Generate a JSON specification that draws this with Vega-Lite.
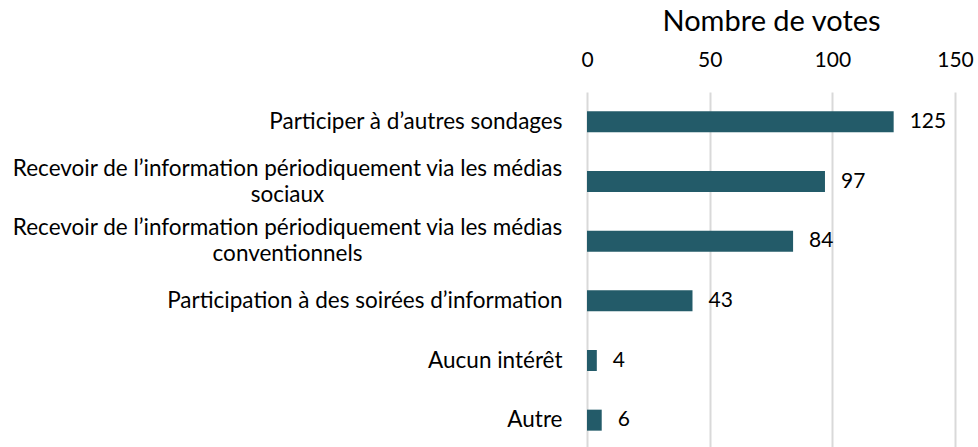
{
  "$schema": "https://vega.github.io/schema/vega-lite/v6.json",
  "autosize": "none",
  "width": 368,
  "height": 358,
  "padding": {"left": 587, "top": 92, "right": 23, "bottom": 0},
  "background": "white",
  "config": {"view": {"stroke": null}, "font": "Lato"},
  "data": {
    "values": [
      {"option": "Participer à d’autres sondages", "votes": 125},
      {"option": "Recevoir de l’information périodiquement via les médias sociaux", "votes": 97},
      {"option": "Recevoir de l’information périodiquement via les médias conventionnels", "votes": 84},
      {"option": "Participation à des soirées d’information", "votes": 43},
      {"option": "Aucun intérêt", "votes": 4},
      {"option": "Autre", "votes": 6}
    ]
  },
  "encoding": {
    "y": {
      "field": "option",
      "type": "nominal",
      "sort": null,
      "scale": {"paddingInner": 0, "paddingOuter": 0},
      "axis": {
        "title": null,
        "ticks": false,
        "domain": false,
        "labelPadding": {"condition": {"test": "indexof(datum.value, 'médias ') > 0", "value": 300}, "value": 25},
        "labelAlign": {"condition": {"test": "indexof(datum.value, 'médias ') > 0", "value": "center"}, "value": "right"},
        "labelOffset": {"condition": {"test": "indexof(datum.value, 'médias ') > 0", "value": -13}, "value": 0},
        "labelFontSize": 22.5,
        "labelColor": "#000000",
        "labelLimit": 700,
        "labelLineHeight": 26,
        "labelExpr": "indexof(datum.value, 'sociaux') > 0 ? ['Recevoir de l’information périodiquement via les médias', 'sociaux'] : (indexof(datum.value, 'conventionnels') > 0 ? ['Recevoir de l’information périodiquement via les médias', 'conventionnels'] : datum.value)"
      }
    },
    "x": {
      "field": "votes",
      "type": "quantitative",
      "scale": {"domain": [0, 150], "nice": false},
      "axis": {
        "orient": "top",
        "values": [0, 50, 100, 150],
        "title": "Nombre de votes",
        "titleFontSize": 29,
        "titleFontWeight": "normal",
        "titleColor": "#000000",
        "titlePadding": 13,
        "labelFontSize": 21,
        "labelColor": "#000000",
        "labelPadding": 22,
        "ticks": false,
        "domain": false,
        "grid": true,
        "gridColor": "#d9d9d9",
        "gridWidth": 2,
        "labelFlush": false
      }
    }
  },
  "layer": [
    {"mark": {"type": "bar", "color": "#235B69", "size": 21}},
    {
      "mark": {"type": "text", "align": "left", "dx": 16, "fontSize": 21, "color": "#000000", "baseline": "middle"},
      "encoding": {"text": {"field": "votes", "type": "quantitative"}}
    }
  ]
}
